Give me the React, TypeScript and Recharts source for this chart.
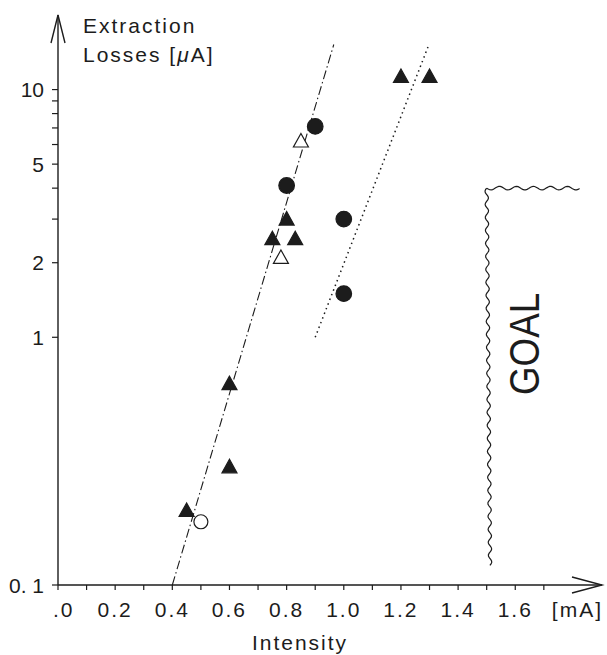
import React from 'react';
import {
  ScatterChart,
  Scatter,
  XAxis,
  YAxis,
  ReferenceLine,
  ReferenceDot,
} from 'recharts';

const FONT = '"Liberation Sans", Arial, sans-serif';
const INK = '#1c1c1c';

// measured points: intensity [mA] vs extraction losses [uA]
const filledTriangles = [
  { x: 0.45, y: 0.2 },
  { x: 0.6, y: 0.3 },
  { x: 0.6, y: 0.65 },
  { x: 0.75, y: 2.5 },
  { x: 0.8, y: 3.0 },
  { x: 0.83, y: 2.5 },
  { x: 1.2, y: 11.3 },
  { x: 1.3, y: 11.3 },
];
const openTriangles = [
  { x: 0.78, y: 2.1 },
  { x: 0.85, y: 6.2 },
];
const filledCircles = [
  { x: 0.8, y: 4.1 },
  { x: 0.9, y: 7.1 },
  { x: 1.0, y: 3.0 },
  { x: 1.0, y: 1.5 },
];
const openCircles = [{ x: 0.5, y: 0.18 }];

// fitted lines, end points
const fitDashDot = [
  { x: 0.4, y: 0.1 },
  { x: 0.965, y: 15.2 },
];
const fitDotted = [
  { x: 0.9, y: 1.0 },
  { x: 1.295, y: 14.9 },
];

// goal region border
const goalVertical = [
  { x: 1.5, y: 4.0 },
  { x: 1.512, y: 0.12 },
];
const goalHorizontal = [
  { x: 1.5, y: 4.0 },
  { x: 1.825, y: 4.0 },
];
const goalLabel = { x: 1.63, y: 0.94, text: 'GOAL' };

const xTicks = [0, 0.1, 0.2, 0.3, 0.4, 0.5, 0.6, 0.7, 0.8, 0.9, 1.0, 1.1, 1.2, 1.3, 1.4, 1.5, 1.6, 1.7, 1.8];
const xLastMark = 1.7;
const xTickLabels: Record<string, string> = {
  '0.0': '.0',
  '0.2': '0.2',
  '0.4': '0.4',
  '0.6': '0.6',
  '0.8': '0.8',
  '1.0': '1.0',
  '1.2': '1.2',
  '1.4': '1.4',
  '1.6': '1.6',
  '1.8': '[mA]',
};
const yTicks = [0.1, 1, 2, 3, 4, 5, 6, 7, 8, 9, 10];
const yTickLabels: Record<string, string> = {
  '0.1': '0. 1',
  '1': '1',
  '2': '2',
  '5': '5',
  '10': '10',
};
const xTitle = 'Intensity';
const yTitle = ['Extraction', 'Losses [', '\u03bc', 'A]'];

const textStyle = { fontFamily: FONT, fontSize: 21, fill: INK };

const XTick = (props: any) => {
  const { x, y, payload } = props;
  const v: number = payload.value;
  const label = xTickLabels[v.toFixed(1)];
  let tx = x;
  let anchor = 'middle';
  if (label && label.startsWith('.')) {
    tx = x - 5;
    anchor = 'start';
  }
  if (label === '[mA]') tx = x + 5;
  return (
    <g>
      {v <= xLastMark + 0.01 && (
        <line x1={x} x2={x} y1={y} y2={y + 5} stroke={INK} strokeWidth={1.2} />
      )}
      {label && (
        <text x={tx} y={y + 32} textAnchor={anchor} letterSpacing={2} {...textStyle}>
          {label}
        </text>
      )}
    </g>
  );
};

const YTick = (props: any) => {
  const { x, y, payload } = props;
  const label = yTickLabels[String(payload.value)];
  return (
    <g>
      <line x1={x - 6} x2={x} y1={y} y2={y} stroke={INK} strokeWidth={1.2} />
      {label && (
        <text x={x - 14} y={y + 7.5} textAnchor="end" {...textStyle}>
          {label}
        </text>
      )}
    </g>
  );
};

const wavyPath = (x1: number, y1: number, x2: number, y2: number, period: number, amp: number) => {
  const dx = x2 - x1;
  const dy = y2 - y1;
  const len = Math.hypot(dx, dy);
  const ux = dx / len;
  const uy = dy / len;
  const n = Math.ceil(len / 1.5);
  let d = '';
  for (let i = 0; i <= n; i++) {
    const t = (i / n) * len;
    const off = amp * Math.sin((2 * Math.PI * t) / period);
    const px = x1 + ux * t - uy * off;
    const py = y1 + uy * t + ux * off;
    d += (i === 0 ? 'M' : 'L') + px.toFixed(2) + ',' + py.toFixed(2);
  }
  return d;
};

const WavyV = (p: any) => (
  <path d={wavyPath(p.x1, p.y1, p.x2, p.y2, 13, 1.7)} fill="none" stroke={INK} strokeWidth={1.2} />
);
const WavyH = (p: any) => (
  <path d={wavyPath(p.x1, p.y1, p.x2, p.y2, 17, 1.8)} fill="none" stroke={INK} strokeWidth={1.2} />
);

const ArrowX = (p: any) => (
  <g stroke={INK} strokeWidth={1.4} fill="none">
    <line x1={p.x1} y1={p.y1} x2={p.x2 + 1} y2={p.y2} />
    <polyline points={`${p.x2 - 29},${p.y2 - 8} ${p.x2 + 1},${p.y2} ${p.x2 - 29},${p.y2 + 8}`} />
  </g>
);
const ArrowY = (p: any) => (
  <g stroke={INK} strokeWidth={1.4} fill="none">
    <line x1={p.x1} y1={p.y1} x2={p.x2} y2={p.y2} />
    <polyline points={`${p.x2 - 7},${p.y2 + 28} ${p.x2},${p.y2} ${p.x2 + 7},${p.y2 + 28}`} />
  </g>
);

const Triangle = ({ cx, cy, filled }: any) => (
  <polygon
    points={`${cx},${cy - 7.5} ${cx - 7.5},${cy + 6} ${cx + 7.5},${cy + 6}`}
    fill={filled ? INK : '#fff'}
    stroke={INK}
    strokeWidth={1.2}
  />
);
const Circle = ({ cx, cy, filled }: any) => (
  <circle cx={cx} cy={cy} r={filled ? 7.8 : 7} fill={filled ? INK : '#fff'} stroke={INK} strokeWidth={1.2} />
);

const GoalText = (p: any) => (
  <text
    transform={`translate(${p.cx},${p.cy}) rotate(-90)`}
    textAnchor="middle"
    dy="0.36em"
    fontFamily={FONT}
    fontSize={43}
    fill={INK}
    textLength={102}
    lengthAdjust="spacingAndGlyphs"
  >
    {goalLabel.text}
  </text>
);

const YTitle = (p: any) => {
  const vb = p.viewBox || { x: 0, y: 15, width: 58 };
  const x = vb.x + vb.width + 25;
  return (
    <g>
      <text x={x} y={vb.y + 18} letterSpacing={2} {...textStyle}>
        {yTitle[0]}
      </text>
      <text x={x} y={vb.y + 47} letterSpacing={2} {...textStyle}>
        {yTitle[1]}
        <tspan fontStyle="italic">{yTitle[2]}</tspan>
        {yTitle[3]}
      </text>
    </g>
  );
};

const XTitle = (p: any) => {
  const vb = p.viewBox || { x: 58, y: 585 };
  return (
    <text x={vb.x + 242} y={vb.y + 65} textAnchor="middle" letterSpacing={2} {...textStyle}>
      {xTitle}
    </text>
  );
};

export default function App() {
  return (
    <div style={{ position: 'absolute', left: 0, top: 0, width: 607, height: 655, background: '#fff' }}>
      <ScatterChart width={607} height={655} margin={{ top: 15, right: 6, bottom: 0, left: 0 }}>
        <XAxis
          type="number"
          dataKey="x"
          domain={[0, 1.9]}
          ticks={xTicks}
          interval={0}
          allowDataOverflow
          axisLine={false}
          tickLine={false}
          tickSize={0}
          tickMargin={0}
          height={70}
          tick={<XTick />}
          label={{ content: <XTitle /> }}
        />
        <YAxis
          type="number"
          dataKey="y"
          scale="log"
          domain={[0.1, 20]}
          ticks={yTicks}
          interval={0}
          allowDataOverflow
          axisLine={false}
          tickLine={false}
          tickSize={0}
          tickMargin={0}
          width={58}
          tick={<YTick />}
          label={{ content: <YTitle /> }}
        />
        <ReferenceLine segment={[{ x: 0, y: 0.1 }, { x: 1.9, y: 0.1 }]} ifOverflow="visible" shape={ArrowX} />
        <ReferenceLine segment={[{ x: 0, y: 0.1 }, { x: 0, y: 20 }]} ifOverflow="visible" shape={ArrowY} />
        <ReferenceLine
          segment={fitDashDot}
          ifOverflow="visible"
          stroke={INK}
          strokeWidth={1.1}
          strokeDasharray="9 3 1.5 3"
        />
        <ReferenceLine
          segment={fitDotted}
          ifOverflow="visible"
          stroke={INK}
          strokeWidth={1.5}
          strokeDasharray="1.5 3.5"
        />
        <ReferenceLine segment={goalVertical} ifOverflow="visible" shape={WavyV} />
        <ReferenceLine segment={goalHorizontal} ifOverflow="visible" shape={WavyH} />
        <ReferenceDot x={goalLabel.x} y={goalLabel.y} r={0} ifOverflow="visible" shape={GoalText} />
        <Scatter data={filledTriangles} isAnimationActive={false} shape={(p: any) => <Triangle {...p} filled />} />
        <Scatter data={openTriangles} isAnimationActive={false} shape={(p: any) => <Triangle {...p} filled={false} />} />
        <Scatter data={filledCircles} isAnimationActive={false} shape={(p: any) => <Circle {...p} filled />} />
        <Scatter data={openCircles} isAnimationActive={false} shape={(p: any) => <Circle {...p} filled={false} />} />
      </ScatterChart>
    </div>
  );
}
